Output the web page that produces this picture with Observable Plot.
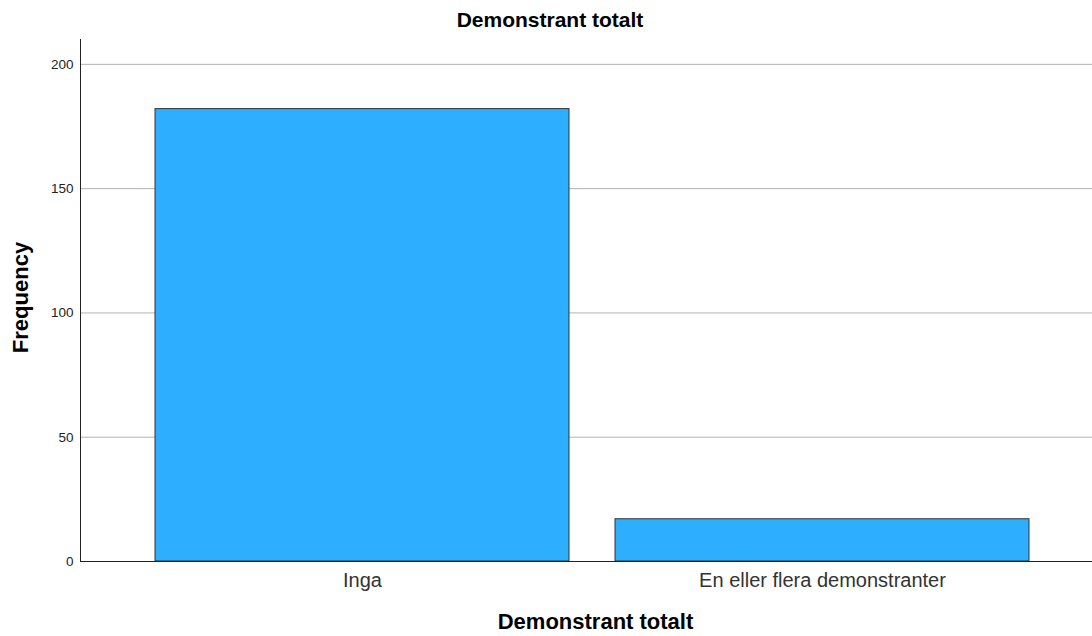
<!DOCTYPE html>
<html>
<head>
<meta charset="utf-8">
<script src="https://cdn.jsdelivr.net/npm/d3@7"></script>
<script src="https://cdn.jsdelivr.net/npm/@observablehq/plot@0.6"></script>
<style>
  body { margin: 0; background: #fff; font-family: "Liberation Sans", Arial, sans-serif; }
  #title { height: 37px; padding-top: 1px; line-height: 38px; text-align: center; font-weight: bold; font-size: 21px; color: #000; padding-left: 8px; }
  svg { display: block; }
</style>
</head>
<body>
<div id="title">Demonstrant totalt</div>
<div id="chart"></div>
<script>
const categories = ["Inga", "En eller flera demonstranter"];
const frequencies = [182, 17];
const yTicks = [0, 50, 100, 150, 200];
const gridTicks = [50, 100, 150, 200];
const xLabel = "Demonstrant totalt";
const yLabel = "Frequency";

const data = categories.map((c, i) => ({cat: c, n: frequencies[i]}));

const chart = Plot.plot({
  width: 1092,
  height: 598,
  marginLeft: 80,
  marginRight: 0,
  marginTop: 1,
  marginBottom: 75,
  style: {fontFamily: "Liberation Sans, Arial, sans-serif", background: "#fff"},
  x: {type: "band", domain: categories, range: [109, 1075], paddingInner: 0.1, paddingOuter: 0.1, round: false},
  y: {domain: [0, 210], range: [523, 1]},
  marks: [
    Plot.gridY(gridTicks, {stroke: "#b3b3b3", strokeOpacity: 1, strokeWidth: 1}),
    Plot.barY(data, {x: "cat", y: "n", fill: "#2daeff", stroke: "#333", strokeWidth: 1}),
    Plot.ruleY([0], {stroke: "#222", strokeWidth: 1}),
    Plot.frame({anchor: "left", stroke: "#222", strokeWidth: 1}),
    Plot.axisY(yTicks, {tickSize: 0, tickPadding: 7, fontSize: 13.5, fill: "#222", label: null}),
    Plot.axisX({tickSize: 0, tickPadding: 11, fontSize: 20, fill: "#333", label: null}),
    Plot.text([yLabel], {frameAnchor: "left", textAnchor: "middle", lineAnchor: "middle", rotate: -90, dx: -60, dy: -3, fontSize: 22, fontWeight: "bold", fill: "#000"}),
    Plot.text([xLabel], {frameAnchor: "bottom", textAnchor: "middle", lineAnchor: "middle", dy: 60, dx: 9, fontSize: 22, fontWeight: "bold", fill: "#000"})
  ]
});
document.getElementById("chart").appendChild(chart);
</script>
</body>
</html>
